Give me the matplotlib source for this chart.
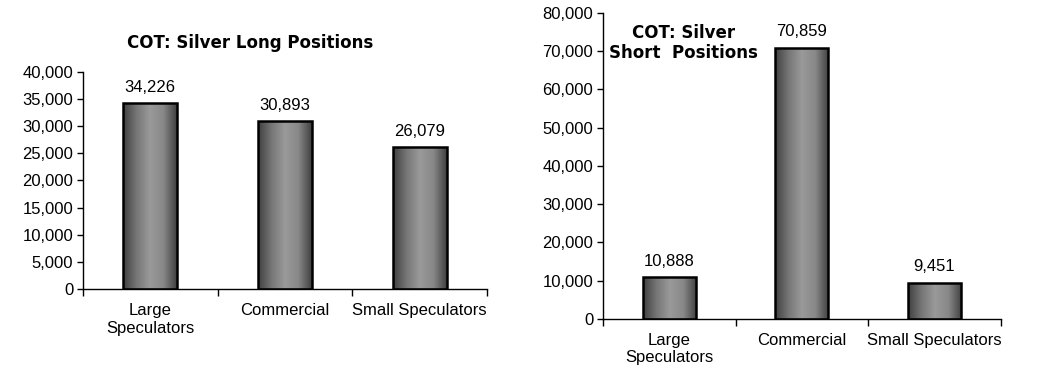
import numpy as np
import matplotlib
matplotlib.use("Agg")
import matplotlib.pyplot as plt
from matplotlib.colors import LinearSegmentedColormap

categories = ["Large\nSpeculators", "Commercial", "Small Speculators"]
long_values = [34226, 30893, 26079]
short_values = [10888, 70859, 9451]

plt.rcParams["font.family"] = ["Liberation Sans", "DejaVu Sans"]
plt.rcParams["font.size"] = 12

bar_cmap = LinearSegmentedColormap.from_list(
    "cyl", ["#404040", "#767676", "#9a9a9a", "#888888", "#404040"])


def draw_panel(ax, values, ymax, ystep):
    x = np.arange(len(values))
    bars = ax.bar(x, values, width=0.4, color="none", edgecolor="black",
                  linewidth=1.8, zorder=3)
    grad = np.linspace(0, 1, 256).reshape(1, -1)
    for b in bars:
        im = ax.imshow(grad, cmap=bar_cmap, aspect="auto", zorder=2,
                       extent=[b.get_x(), b.get_x() + b.get_width(), 0, b.get_height()])
        im.set_clip_path(b)
    for xi, v in zip(x, values):
        ax.annotate(f"{v:,}", (xi, v), xytext=(0, 6), textcoords="offset points",
                    ha="center", va="bottom", fontsize=12)

    ax.set_xlim(-0.5, len(values) - 0.5)
    ax.set_ylim(0, ymax)
    ax.set_yticks(np.arange(0, ymax + 1, ystep))
    ax.yaxis.set_major_formatter(matplotlib.ticker.FuncFormatter(lambda v, p: f"{int(v):,}"))
    ax.set_xticks(np.arange(-0.5, len(values)), labels=[])
    ax.set_xticks(x, labels=categories, minor=True)
    ax.tick_params(axis="x", which="major", length=5, width=1, direction="out")
    ax.tick_params(axis="x", which="minor", length=0, pad=10, labelsize=12)
    ax.tick_params(axis="y", length=4, width=1, direction="out", pad=3, labelsize=12)
    for s in ["top", "right"]:
        ax.spines[s].set_visible(False)
    for s in ["left", "bottom"]:
        ax.spines[s].set_linewidth(1)
        ax.spines[s].set_color("black")


fig = plt.figure(figsize=(10.5, 3.81), dpi=100)

ax1 = fig.add_axes([0.079, 0.2407, 0.3848, 0.5711])
draw_panel(ax1, long_values, 40000, 5000)
fig.text(0.238, 0.886, "COT: Silver Long Positions", ha="center", va="center",
         fontsize=12, fontweight="bold", family="DejaVu Sans")

ax2 = fig.add_axes([0.5743, 0.1627, 0.3787, 0.804])
draw_panel(ax2, short_values, 80000, 10000)
fig.text(0.651, 0.888, "COT: Silver\nShort  Positions", ha="center", va="center",
         fontsize=12, fontweight="bold", family="DejaVu Sans", linespacing=1.15)

fig.savefig("out.png", dpi=100)
